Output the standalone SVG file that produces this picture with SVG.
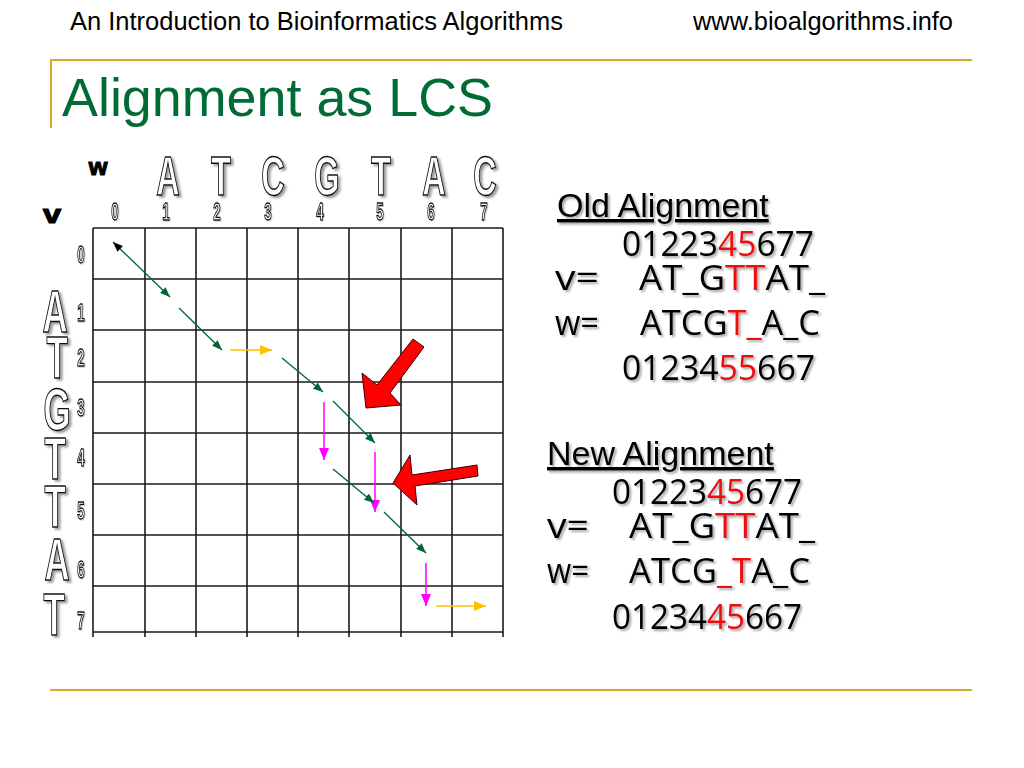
<svg xmlns="http://www.w3.org/2000/svg" width="1024" height="768" viewBox="0 0 1024 768">
<style>
.hdr{font-family:"Liberation Sans",Arial,sans-serif;font-size:25px;fill:#000}
.title{font-family:"Liberation Sans",Arial,sans-serif;font-size:54px;fill:#006b35}
.gold{stroke:#d9a82a;stroke-width:2;fill:none}
.grid line{stroke:#1a1a1a;stroke-width:1.6}
.big{font-family:"Liberation Sans",Arial,sans-serif;font-weight:bold;fill:#fff;stroke:#111;stroke-width:1.4;text-anchor:middle}
.num{font-family:"Liberation Sans",Arial,sans-serif;font-weight:bold;font-size:24px;fill:#fff;stroke:#111;stroke-width:1.3;text-anchor:middle}
.blk{font-family:"Liberation Sans",Arial,sans-serif;font-weight:bold;fill:#000;stroke:#000;stroke-width:1.2;text-anchor:middle}
.g{stroke:#006633;stroke-width:1.3;fill:none}
.y{stroke:#ffc000;stroke-width:1.5;fill:none}
.m{stroke:#ff00ff;stroke-width:1.5;fill:none}
.red{fill:#ff0000;stroke:#3a0000;stroke-width:1}
.hd{font-family:"Liberation Sans",Arial,sans-serif;font-size:34px;fill:#000;text-decoration:underline}
.al{font-family:"Open Sans","Noto Sans",sans-serif;font-size:34px;fill:#000}
.r{fill:#ee1111}
</style>
<defs>
<filter id="sh" x="-10%" y="-10%" width="130%" height="140%">
<feDropShadow dx="2" dy="2" stdDeviation="1" flood-color="#000" flood-opacity="0.35"/>
</filter>
<filter id="lsh" x="-20%" y="-20%" width="150%" height="150%">
<feDropShadow dx="2.5" dy="2" stdDeviation="0.8" flood-color="#555" flood-opacity="0.6"/>
</filter>
<filter id="nsh" x="-20%" y="-20%" width="150%" height="150%">
<feDropShadow dx="1" dy="1" stdDeviation="0.5" flood-color="#777" flood-opacity="0.4"/>
</filter>
<marker id="ag" viewBox="0 0 10 8" refX="10" refY="4" markerWidth="10" markerHeight="8" orient="auto" markerUnits="userSpaceOnUse"><path d="M0,0 L10,4 L0,8 z" fill="#006633"/></marker>
<marker id="ab" viewBox="0 0 10 8" refX="10" refY="4" markerWidth="10" markerHeight="8" orient="auto-start-reverse" markerUnits="userSpaceOnUse"><path d="M0,0 L10,4 L0,8 z" fill="#000"/></marker>
<marker id="ay" viewBox="0 0 12 10" refX="12" refY="5" markerWidth="12" markerHeight="10" orient="auto" markerUnits="userSpaceOnUse"><path d="M0,0 L12,5 L0,10 z" fill="#ffc000"/></marker>
<marker id="am" viewBox="0 0 12 10" refX="12" refY="5" markerWidth="12" markerHeight="10" orient="auto" markerUnits="userSpaceOnUse"><path d="M0,0 L12,5 L0,10 z" fill="#ff00ff"/></marker>
</defs>
<rect width="1024" height="768" fill="#fff"/>

<g id="header">
<text class="hdr" x="70" y="30" textLength="493" lengthAdjust="spacingAndGlyphs">An Introduction to Bioinformatics Algorithms</text>
<text class="hdr" x="693" y="30" textLength="260" lengthAdjust="spacingAndGlyphs">www.bioalgorithms.info</text>
<line class="gold" x1="50" y1="60" x2="972" y2="60"/>
<line class="gold" x1="51" y1="60" x2="51" y2="128"/>
<line class="gold" x1="50" y1="690" x2="972" y2="690"/>
</g>

<g id="title">
<text class="title" x="62" y="116" textLength="431" lengthAdjust="spacingAndGlyphs">Alignment as LCS</text>
</g>

<g id="grid" class="grid">
<line x1="93" y1="228" x2="93" y2="637"/>
<line x1="145" y1="228" x2="145" y2="637"/>
<line x1="196" y1="228" x2="196" y2="637"/>
<line x1="247" y1="228" x2="247" y2="637"/>
<line x1="298" y1="228" x2="298" y2="637"/>
<line x1="349" y1="228" x2="349" y2="637"/>
<line x1="401" y1="228" x2="401" y2="637"/>
<line x1="452" y1="228" x2="452" y2="637"/>
<line x1="503" y1="228" x2="503" y2="637"/>
<line x1="93" y1="228" x2="503" y2="228"/>
<line x1="93" y1="279" x2="503" y2="279"/>
<line x1="93" y1="330" x2="503" y2="330"/>
<line x1="93" y1="382" x2="503" y2="382"/>
<line x1="93" y1="433" x2="503" y2="433"/>
<line x1="93" y1="484" x2="503" y2="484"/>
<line x1="93" y1="535" x2="503" y2="535"/>
<line x1="93" y1="586" x2="503" y2="586"/>
<line x1="93" y1="632" x2="503" y2="632"/>
</g>

<g id="w-labels">
<text class="blk" font-size="24" x="98" y="175">w</text>
<g filter="url(#lsh)">
<text class="big" font-size="56" transform="matrix(0.58 0 0 1 168 195)">A</text>
<text class="big" font-size="56" transform="matrix(0.58 0 0 1 221 195)">T</text>
<text class="big" font-size="56" transform="matrix(0.58 0 0 1 273 195)">C</text>
<text class="big" font-size="56" transform="matrix(0.58 0 0 1 327 195)">G</text>
<text class="big" font-size="56" transform="matrix(0.58 0 0 1 381 195)">T</text>
<text class="big" font-size="56" transform="matrix(0.58 0 0 1 434 195)">A</text>
<text class="big" font-size="56" transform="matrix(0.58 0 0 1 485 195)">C</text>
</g>
<g filter="url(#nsh)">
<text class="num" transform="matrix(0.55 0 0 1 115 220)">0</text>
<text class="num" transform="matrix(0.55 0 0 1 166 220)">1</text>
<text class="num" transform="matrix(0.55 0 0 1 217 220)">2</text>
<text class="num" transform="matrix(0.55 0 0 1 268 220)">3</text>
<text class="num" transform="matrix(0.55 0 0 1 320 220)">4</text>
<text class="num" transform="matrix(0.55 0 0 1 380 220)">5</text>
<text class="num" transform="matrix(0.55 0 0 1 431 220)">6</text>
<text class="num" transform="matrix(0.55 0 0 1 484 220)">7</text>
</g>
</g>

<g id="v-labels">
<text class="blk" font-size="26" transform="matrix(1.25 0 0 1 52 223)">v</text>
<g filter="url(#lsh)">
<text class="big" font-size="60" transform="matrix(0.58 0 0 1 55 332)">A</text>
<text class="big" font-size="60" transform="matrix(0.58 0 0 1 57 378)">T</text>
<text class="big" font-size="60" transform="matrix(0.58 0 0 1 57 430)">G</text>
<text class="big" font-size="60" transform="matrix(0.58 0 0 1 55 479)">T</text>
<text class="big" font-size="60" transform="matrix(0.58 0 0 1 55 527)">T</text>
<text class="big" font-size="60" transform="matrix(0.58 0 0 1 57 580)">A</text>
<text class="big" font-size="60" transform="matrix(0.58 0 0 1 54 635)">T</text>
</g>
<g filter="url(#nsh)">
<text class="num" transform="matrix(0.55 0 0 1 81 263)">0</text>
<text class="num" transform="matrix(0.55 0 0 1 81 321)">1</text>
<text class="num" transform="matrix(0.55 0 0 1 81 366)">2</text>
<text class="num" transform="matrix(0.55 0 0 1 81 416)">3</text>
<text class="num" transform="matrix(0.55 0 0 1 81 466)">4</text>
<text class="num" transform="matrix(0.55 0 0 1 81 519)">5</text>
<text class="num" transform="matrix(0.55 0 0 1 81 578)">6</text>
<text class="num" transform="matrix(0.55 0 0 1 81 629)">7</text>
</g>
</g>

<g id="connectors">
<line class="g" x1="113" y1="242" x2="170" y2="297" marker-start="url(#ab)" marker-end="url(#ag)"/>
<line class="g" x1="179" y1="308" x2="222" y2="350" marker-end="url(#ag)"/>
<line class="y" x1="230" y1="350" x2="272" y2="350" marker-end="url(#ay)"/>
<line class="g" x1="282" y1="358" x2="323" y2="392" marker-end="url(#ag)"/>
<line class="m" x1="324" y1="402" x2="324" y2="460" marker-end="url(#am)"/>
<line class="g" x1="333" y1="401" x2="375" y2="443" marker-end="url(#ag)"/>
<line class="m" x1="375" y1="452" x2="375" y2="512" marker-end="url(#am)"/>
<line class="g" x1="333" y1="469" x2="374" y2="503" marker-end="url(#ag)"/>
<line class="g" x1="384" y1="512" x2="426" y2="553" marker-end="url(#ag)"/>
<line class="m" x1="426" y1="563" x2="426" y2="606" marker-end="url(#am)"/>
<line class="y" x1="436" y1="606" x2="486" y2="606" marker-end="url(#ay)"/>
</g>

<g id="callouts">
<polygon class="red" points="366,408 362,373 377,385 413,339 424,347 390,393 401,405"/>
<polygon class="red" points="393,483 410,455 412,475 477,465 478,476 415,486 417,505"/>
</g>

<g id="old-alignment" filter="url(#sh)">
<text class="hd" x="557" y="217">Old Alignment</text>
<text class="al" x="622" y="256" textLength="192" lengthAdjust="spacingAndGlyphs">01223<tspan class="r">45</tspan>677</text>
<text class="al" x="555" y="290" textLength="44" lengthAdjust="spacingAndGlyphs">v=</text>
<text class="al" x="639" y="290" textLength="186" lengthAdjust="spacingAndGlyphs">AT_G<tspan class="r">TT</tspan>AT_</text>
<text class="al" x="555" y="335" textLength="44" lengthAdjust="spacingAndGlyphs">w=</text>
<text class="al" x="640" y="335" textLength="180" lengthAdjust="spacingAndGlyphs">ATCG<tspan class="r">T_</tspan>A_C</text>
<text class="al" x="622" y="380" textLength="193" lengthAdjust="spacingAndGlyphs">01234<tspan class="r">55</tspan>667</text>
</g>

<g id="new-alignment" filter="url(#sh)">
<text class="hd" x="547" y="465">New Alignment</text>
<text class="al" x="612" y="504" textLength="190" lengthAdjust="spacingAndGlyphs">01223<tspan class="r">45</tspan>677</text>
<text class="al" x="547" y="538" textLength="42" lengthAdjust="spacingAndGlyphs">v=</text>
<text class="al" x="629" y="538" textLength="186" lengthAdjust="spacingAndGlyphs">AT_G<tspan class="r">TT</tspan>AT_</text>
<text class="al" x="547" y="583" textLength="42" lengthAdjust="spacingAndGlyphs">w=</text>
<text class="al" x="629" y="583" textLength="181" lengthAdjust="spacingAndGlyphs">ATCG<tspan class="r">_T</tspan>A_C</text>
<text class="al" x="612" y="629" textLength="190" lengthAdjust="spacingAndGlyphs">01234<tspan class="r">45</tspan>667</text>
</g>
</svg>
